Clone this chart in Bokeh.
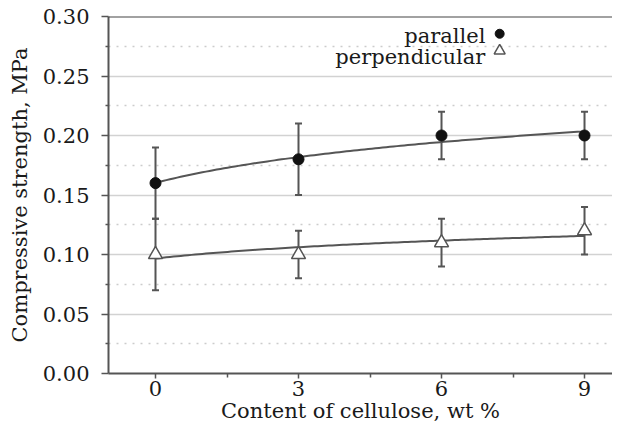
import numpy as np
from bokeh.plotting import figure
from bokeh.models import FixedTicker, Span, Label, Range1d, CustomJSTickFormatter
from bokeh.embed import file_html
from bokeh.resources import INLINE

# ---- data ----
content = [0, 3, 6, 9]
content_ticks = [0, 3, 6, 9]
parallel = [0.16, 0.18, 0.20, 0.20]
parallel_err = [0.03, 0.03, 0.02, 0.02]
perpendicular = [0.10, 0.10, 0.11, 0.12]
perpendicular_err = [0.03, 0.02, 0.02, 0.02]
y_ticks = [0.0, 0.05, 0.10, 0.15, 0.20, 0.25, 0.30]
y_minor = [0.025, 0.075, 0.125, 0.175, 0.225, 0.275]
x_minor = [1.5, 4.5, 7.5]
series_names = ["parallel", "perpendicular"]

FONT = "DejaVu Serif"
FS = "21px"
DARK = "#555555"

p = figure(width=612, height=425, output_backend="svg", toolbar_location=None,
           x_range=Range1d(-0.986, 9.587), y_range=Range1d(0, 0.30),
           min_border_left=108, min_border_right=0, min_border_top=16, min_border_bottom=50)
p.outline_line_color = None
p.background_fill_color = "white"
p.border_fill_color = "white"

# axes
p.xaxis.ticker = FixedTicker(ticks=content_ticks, minor_ticks=x_minor)
p.yaxis.ticker = FixedTicker(ticks=y_ticks, minor_ticks=y_minor)
p.yaxis.formatter = CustomJSTickFormatter(code="return tick.toFixed(2);")
for ax in (p.xaxis[0], p.yaxis[0]):
    ax.axis_line_color = DARK
    ax.axis_line_width = 2
    ax.major_tick_line_color = DARK
    ax.minor_tick_line_color = DARK
    ax.major_tick_line_width = 1.5
    ax.minor_tick_line_width = 1.5
    ax.major_tick_in = 0
    ax.minor_tick_in = 0
    ax.major_label_text_font = FONT
    ax.major_label_text_font_size = FS
    ax.major_label_text_color = "#1a1a1a"
    ax.axis_label_text_font = FONT
    ax.axis_label_text_font_size = FS
    ax.axis_label_text_font_style = "normal"
    ax.axis_label_text_color = "#1a1a1a"
p.xaxis.major_tick_out = 5
p.xaxis.minor_tick_out = 4
p.yaxis.major_tick_out = 7
p.yaxis.minor_tick_out = 3
p.xaxis.major_label_standoff = 2
p.yaxis.major_label_standoff = 12
p.xaxis.axis_label = "Content of cellulose, wt %"
p.yaxis.axis_label = "Compressive strength, MPa"
p.xaxis.axis_label_standoff = 0
p.yaxis.axis_label_standoff = 8

# grid
p.xgrid.grid_line_color = None
p.ygrid.grid_line_color = "#d2d2d2"
p.ygrid.grid_line_width = 1.5
p.ygrid.minor_grid_line_color = "#cccccc"
p.ygrid.minor_grid_line_width = 1.5
p.ygrid.minor_grid_line_dash = "2 6"

p.add_layout(Span(location=0.30, dimension="width", line_color="#444444", line_width=2))

# logarithmic trend lines (fitted on category index 1..4)
k = np.array(content) / 3 + 1
xs = np.linspace(content[0], content[-1], 120)
ks = xs / 3 + 1
for vals in (parallel, perpendicular):
    b, a = np.polyfit(np.log(k), np.array(vals), 1)
    p.line(xs, a + b * np.log(ks), line_color=DARK, line_width=2)

# error bars
for vals, errs in ((parallel, parallel_err), (perpendicular, perpendicular_err)):
    lo = [v - e for v, e in zip(vals, errs)]
    hi = [v + e for v, e in zip(vals, errs)]
    p.segment(content, lo, content, hi, line_color=DARK, line_width=2)
    p.scatter(content + content, lo + hi, marker="dash", size=7, line_color=DARK, line_width=2)

# markers
p.scatter(content, parallel, marker="circle", size=11, fill_color="#111111", line_color="#111111")
p.scatter(content, perpendicular, marker="triangle", size=14, fill_color="white",
          line_color=DARK, line_width=1.5)

# legend (labels to the left of the keys)
LX_TEXT, LX_KEY = 6.92, 7.22
LY = [0.2836, 0.2663]
LKY = [0.2855, 0.2712]
for name, ly in zip(series_names, LY):
    p.add_layout(Label(x=LX_TEXT, y=ly, text=name, text_align="right", text_baseline="alphabetic",
                       text_font=FONT, text_font_size=FS, text_color="#1a1a1a"))
p.scatter([LX_KEY], [LKY[0]], marker="circle", size=9, fill_color="#111111", line_color="#111111")
p.scatter([LX_KEY], [LKY[1]], marker="triangle", size=11, fill_color="white", line_color=DARK, line_width=1.5)

open("out.html", "w").write(file_html(p, INLINE))
